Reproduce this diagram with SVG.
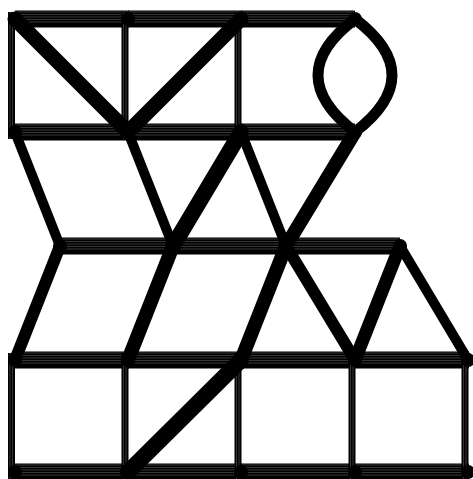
<svg xmlns="http://www.w3.org/2000/svg" xmlns:xlink="http://www.w3.org/1999/xlink" width="473" height="479" viewBox="0 0 473 479">
<style>
.base{stroke:#000;fill:none}
.stripe{stroke:#707070;stroke-width:0.5}
.diag{stroke:#000;fill:none;stroke-linecap:round}
.node{fill:#000}
</style>
<defs>
<g id="hb">
<line class="base" x1="0" y1="0" x2="114" y2="0" stroke-width="17"/>
<line class="stripe" x1="0" y1="-7" x2="114" y2="-7"/>
<line class="stripe" x1="0" y1="-4.5" x2="114" y2="-4.5"/>
<line class="stripe" x1="0" y1="-2" x2="114" y2="-2"/>
<line class="stripe" x1="0" y1="0.5" x2="114" y2="0.5"/>
<line class="stripe" x1="0" y1="3" x2="114" y2="3"/>
</g>
<g id="vb">
<line class="base" x1="0" y1="-7" x2="0" y2="120" stroke-width="7"/>
<line class="stripe" x1="-1.5" y1="-7" x2="-1.5" y2="120"/>
<line class="stripe" x1="1" y1="-7" x2="1" y2="120"/>
</g>
</defs>
<rect width="473" height="479" fill="#fff"/>
<g id="connectors">
<use xlink:href="#hb" href="#hb" x="15" y="19"/>
<use xlink:href="#hb" href="#hb" x="128" y="19"/>
<use xlink:href="#hb" href="#hb" x="241" y="19"/>
<use xlink:href="#hb" href="#hb" x="15" y="132"/>
<use xlink:href="#hb" href="#hb" x="128" y="132"/>
<use xlink:href="#hb" href="#hb" x="241" y="132"/>
<use xlink:href="#hb" href="#hb" x="60" y="246"/>
<use xlink:href="#hb" href="#hb" x="173" y="246"/>
<use xlink:href="#hb" href="#hb" x="286" y="246"/>
<use xlink:href="#hb" href="#hb" x="15" y="360"/>
<use xlink:href="#hb" href="#hb" x="128" y="360"/>
<use xlink:href="#hb" href="#hb" x="241" y="360"/>
<use xlink:href="#hb" href="#hb" x="355" y="360"/>
<use xlink:href="#hb" href="#hb" x="15" y="472"/>
<use xlink:href="#hb" href="#hb" x="128" y="472"/>
<use xlink:href="#hb" href="#hb" x="241" y="472"/>
<use xlink:href="#hb" href="#hb" x="355" y="472"/>
<use xlink:href="#vb" href="#vb" x="11.5" y="19"/>
<use xlink:href="#vb" href="#vb" x="125" y="19"/>
<use xlink:href="#vb" href="#vb" x="238" y="19"/>
<use xlink:href="#vb" href="#vb" x="11.5" y="360"/>
<use xlink:href="#vb" href="#vb" x="125" y="360"/>
<use xlink:href="#vb" href="#vb" x="238" y="360"/>
<use xlink:href="#vb" href="#vb" x="352" y="360"/>
<use xlink:href="#vb" href="#vb" x="465" y="360"/>
<line class="diag" x1="15" y1="19" x2="128" y2="132" stroke-width="15"/>
<line class="diag" x1="128" y1="132" x2="241" y2="19" stroke-width="15"/>
<path class="diag" d="M355 19 Q281 75 355 132" stroke-width="11"/>
<path class="diag" d="M355 19 Q429 75 355 132" stroke-width="11"/>
<line class="diag" x1="15" y1="132" x2="60" y2="246" stroke-width="10"/>
<line class="diag" x1="128" y1="132" x2="173" y2="246" stroke-width="10"/>
<line class="diag" x1="241" y1="132" x2="173" y2="246" stroke-width="16"/>
<line class="diag" x1="241" y1="132" x2="286" y2="246" stroke-width="10"/>
<line class="diag" x1="355" y1="132" x2="286" y2="246" stroke-width="14"/>
<line class="diag" x1="60" y1="246" x2="15" y2="360" stroke-width="12"/>
<line class="diag" x1="173" y1="246" x2="128" y2="360" stroke-width="14"/>
<line class="diag" x1="286" y1="246" x2="241" y2="360" stroke-width="14"/>
<line class="diag" x1="286" y1="246" x2="355" y2="360" stroke-width="12"/>
<line class="diag" x1="400" y1="246" x2="355" y2="360" stroke-width="13"/>
<line class="diag" x1="400" y1="246" x2="468" y2="360" stroke-width="10"/>
<line class="diag" x1="241" y1="360" x2="128" y2="472" stroke-width="16"/>
</g>
<g id="A"><circle class="node" cx="15" cy="19" r="7"/></g>
<g id="B"><circle class="node" cx="128" cy="19" r="7"/></g>
<g id="C"><circle class="node" cx="241" cy="19" r="7"/></g>
<g id="D"><circle class="node" cx="355" cy="19" r="7"/></g>
<g id="E"><circle class="node" cx="15" cy="132" r="7"/></g>
<g id="F"><circle class="node" cx="128" cy="132" r="7"/></g>
<g id="G"><circle class="node" cx="241" cy="132" r="7"/></g>
<g id="H"><circle class="node" cx="355" cy="132" r="7"/></g>
<g id="I"><circle class="node" cx="60" cy="246" r="7"/></g>
<g id="J"><circle class="node" cx="173" cy="246" r="7"/></g>
<g id="K"><circle class="node" cx="286" cy="246" r="7"/></g>
<g id="L"><circle class="node" cx="400" cy="246" r="7"/></g>
<g id="M"><circle class="node" cx="15" cy="360" r="7"/></g>
<g id="N"><circle class="node" cx="128" cy="360" r="7"/></g>
<g id="O"><circle class="node" cx="241" cy="360" r="7"/></g>
<g id="P"><circle class="node" cx="355" cy="360" r="7"/></g>
<g id="Q"><circle class="node" cx="468" cy="360" r="7"/></g>
<g id="R"><circle class="node" cx="15" cy="472" r="7"/></g>
<g id="S"><circle class="node" cx="128" cy="472" r="7"/></g>
<g id="T"><circle class="node" cx="241" cy="472" r="7"/></g>
<g id="U"><circle class="node" cx="355" cy="472" r="7"/></g>
<g id="V"><circle class="node" cx="468" cy="472" r="7"/></g>
</svg>
